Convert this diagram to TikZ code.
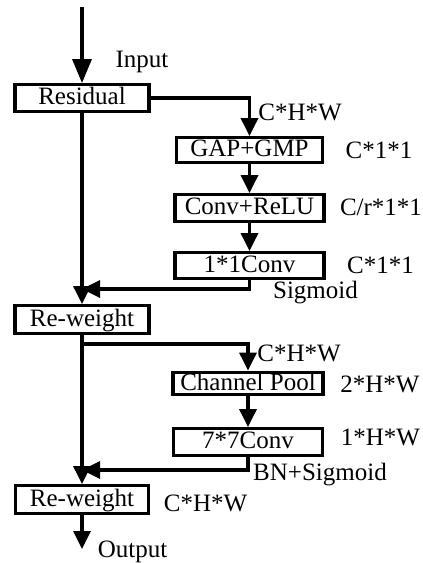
\documentclass[tikz,border=0pt]{standalone}
\usepackage{fontspec}
\setmainfont{Liberation Serif}
\usetikzlibrary{arrows.meta}
\begin{document}
\begin{tikzpicture}[x=1pt,y=-1pt,
  box/.style={draw,line width=3.4pt,inner sep=0pt,text height=16.5pt,text depth=3pt,font=\fontsize{25}{28}\selectfont},
  lbl/.style={inner sep=0pt,font=\fontsize{25}{28}\selectfont},
  conn/.style={line width=3.4pt,-{Triangle[width=17pt,length=18pt]}},
  bigconn/.style={line width=3.4pt,-{Triangle[width=19pt,length=24pt]}}]
\useasboundingbox (0,0) rectangle (423,563);
% boxes
\node[box,minimum width=134pt,minimum height=26.5pt] (res) at (82,98) {Residual};
\node[box,minimum width=146pt,minimum height=24.5pt] (gap) at (249.5,150) {GAP+GMP};
\node[box,minimum width=149pt,minimum height=26.5pt] (conv) at (249.5,208) {Conv+ReLU};
\node[box,minimum width=149pt,minimum height=25.5pt] (one) at (249.5,265.5) {1*1Conv};
\node[box,minimum width=134pt,minimum height=27.5pt] (rw1) at (82,319.5) {Re-weight};
\node[box,minimum width=150pt,minimum height=22.5pt] (cp) at (248,383.5) {Channel Pool};
\node[box,minimum width=149pt,minimum height=26.5pt] (sev) at (248,442) {7*7Conv};
\node[box,minimum width=133pt,minimum height=27.5pt] (rw2) at (82,499.5) {Re-weight};
% coordinates
\coordinate (top) at (82,7);
\coordinate (j1) at (82,289);
\coordinate (b2) at (82,344);
\coordinate (j2) at (82,470);
\coordinate (out) at (82,549);
% connectors
\draw[bigconn] (top) -- (res.north);
\draw[conn] (res.east) -| (gap.north);
\draw[conn] (gap.south) -- (conv.north);
\draw[conn] (conv.south) -- (one.north);
\draw[conn] (res.south) -- (rw1.north);
\draw[conn] (one.south) |- (j1);
\draw[conn] (b2) -| (cp.north);
\draw[conn] (cp.south) -- (sev.north);
\draw[conn] (rw1.south) -- (rw2.north);
\draw[conn] (sev.south) |- (j2);
\draw[conn] (rw2.south) -- (out);
% labels
\node[lbl] (lin) at (142,62) {Input};
\node[lbl] (l1) at (300,112) {C*H*W};
\node[lbl] (l2) at (379,150) {C*1*1};
\node[lbl] (l3) at (381,207) {C/r*1*1};
\node[lbl] (l4) at (380.5,265) {C*1*1};
\node[lbl] (l5) at (315.5,293) {Sigmoid};
\node[lbl] (l6) at (299,353) {C*H*W};
\node[lbl] (l7) at (380,384) {2*H*W};
\node[lbl] (l8) at (380.5,437) {1*H*W};
\node[lbl] (l9) at (320,475) {BN+Sigmoid};
\node[lbl] (l10) at (205.5,503) {C*H*W};
\node[lbl] (lout) at (132.5,552) {Output};
\end{tikzpicture}
\end{document}
